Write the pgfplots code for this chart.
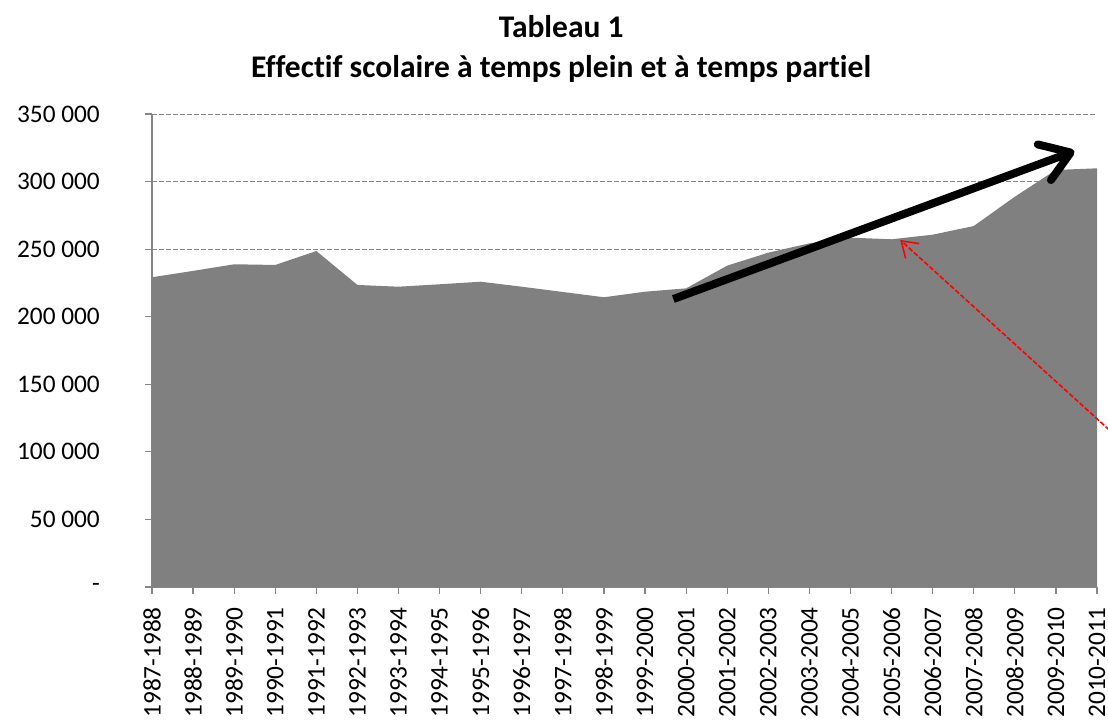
\documentclass[border=0pt]{standalone}
\usepackage{pgfplots}
\pgfplotsset{compat=1.18}
\usepackage{fontspec}
\setmainfont{Carlito}[Ligatures=NoCommon]
\usetikzlibrary{arrows.meta}
\definecolor{axgray}{HTML}{868686}
\definecolor{areagray}{HTML}{808080}
\begin{document}
\begin{tikzpicture}
\clip (-152pt,-134pt) rectangle (956pt,587pt);
\begin{axis}[
  at={(0,0)}, anchor=south west,
  scale only axis, width=945pt, height=473pt,
  xmin=0, xmax=23, ymin=0, ymax=350000,
  clip=false,
  scaled y ticks=false,
  axis x line=bottom, axis y line=left,
  axis line style={-, draw=axgray, line width=1.2pt},
  tick style={draw=axgray, line width=1.2pt},
  major tick length=7pt,
  tick align=outside,
  xtick={0,1,...,23},
  xticklabels={1987-1988,1988-1989,1989-1990,1990-1991,1991-1992,1992-1993,1993-1994,1994-1995,1995-1996,1996-1997,1997-1998,1998-1999,1999-2000,2000-2001,2001-2002,2002-2003,2003-2004,2004-2005,2005-2006,2006-2007,2007-2008,2008-2009,2009-2010,2010-2011},
  ytick={0,50000,100000,150000,200000,250000,300000,350000},
  yticklabels={{-\hspace{9pt}},{50 000},{100 000},{150 000},{200 000},{250 000},{300 000},{350 000}},
  ticklabel style={font=\fontsize{25.3}{30}\selectfont},
  xticklabel style={rotate=90, anchor=east, inner sep=0pt, xshift=-13pt},
  yticklabel style={anchor=east, inner sep=0pt, xshift=-45pt},
  ymajorgrids,
  major grid style={draw=axgray, line width=1pt, dash pattern=on 5pt off 2pt},
]
\addplot[fill=areagray, draw=none] coordinates {
(0,229200) (1,233900) (2,238800) (3,238300) (4,248600) (5,223500)
(6,222200) (7,224000) (8,225900) (9,222200) (10,218300) (11,214400)
(12,218500) (13,221000) (14,237800) (15,247400) (16,254300) (17,258500)
(18,257300) (19,260700) (20,267100) (21,288800) (22,308600) (23,309800)
} \closedcycle;
\draw[line width=8pt, -{Straight Barb[length=28pt,width=38pt,round]}] (axis cs:12.69,213100) -- (axis cs:22.45,322500);
\draw[red, line width=1.6pt, dash pattern=on 5pt off 2pt, -{Straight Barb[length=15pt,width=20pt]}] (axis cs:23.3,116200) -- (axis cs:18.21,256800);
\node[anchor=base, inner sep=0pt, font=\bfseries\fontsize{31.5}{38}\selectfont] at (rel axis cs:0.433,1.1607) {Tableau 1};
\node[anchor=base, inner sep=0pt, font=\bfseries\fontsize{31.5}{38}\selectfont] at (rel axis cs:0.433,1.0782) {Effectif scolaire à temps plein et à temps partiel};
\end{axis}
\end{tikzpicture}
\end{document}
